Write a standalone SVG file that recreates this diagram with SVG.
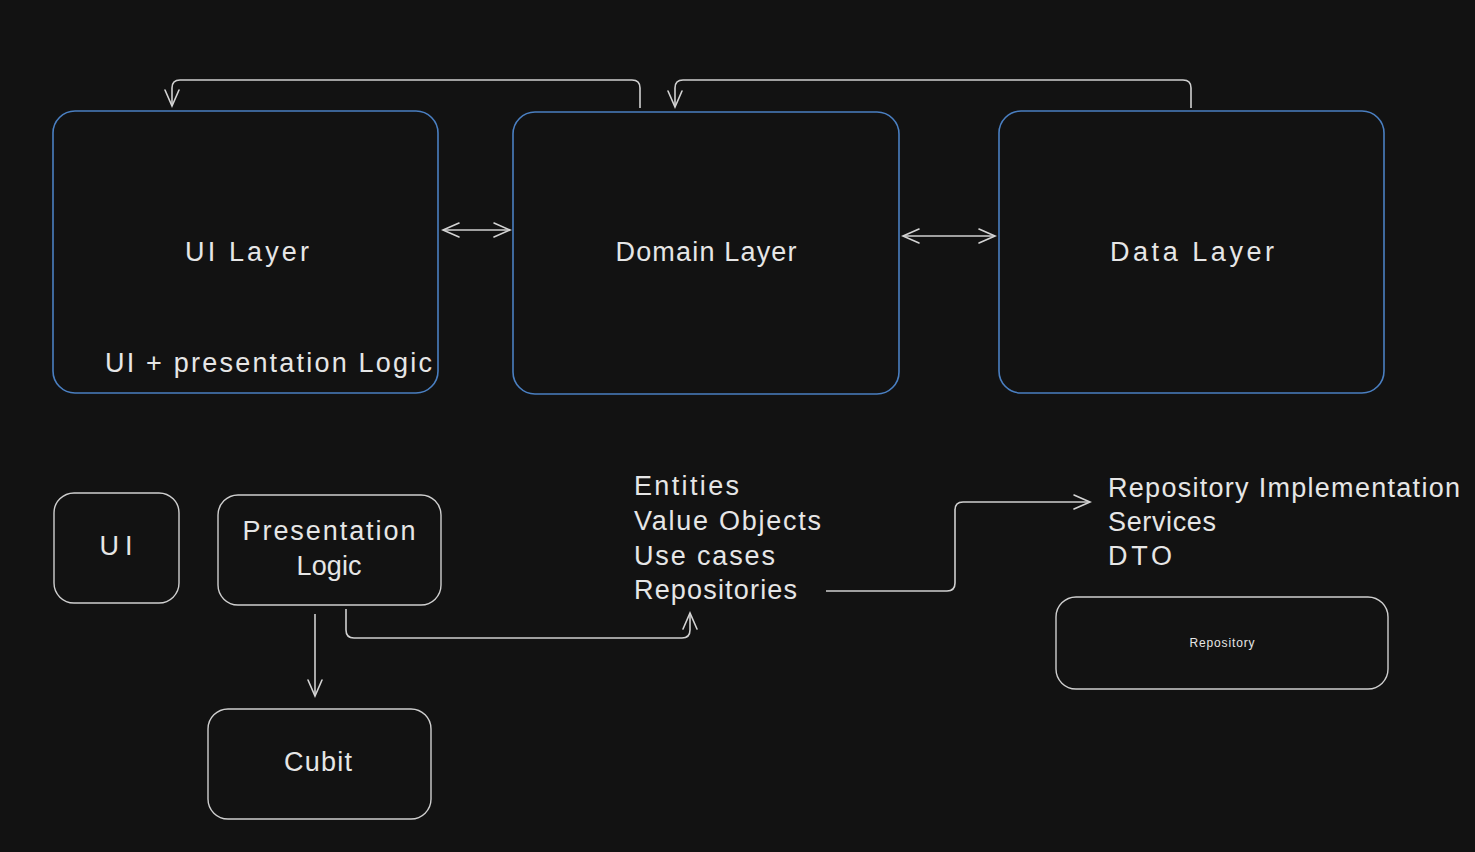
<svg xmlns="http://www.w3.org/2000/svg" width="1475" height="852" viewBox="0 0 1475 852">
<defs>
<marker id="ah" viewBox="0 0 20 20" refX="18" refY="10" markerWidth="20" markerHeight="20" markerUnits="userSpaceOnUse" orient="auto-start-reverse">
<path d="M2 3 L18 10 L2 17" fill="none" stroke="#d4d4d4" stroke-width="1.6" stroke-linecap="round"/>
</marker>
<style>
.layer{fill:#121212;stroke:#4a7fc1;stroke-width:1.6}
.box{fill:#121212;stroke:#cfcfcf;stroke-width:1.4}
.t{font-family:"Liberation Sans",Arial,sans-serif;font-size:27px;fill:#e6e6e6}
.c{text-anchor:middle}
.con{fill:none;stroke:#d0d0d0;stroke-width:1.6}
</style>
</defs>
<rect width="1475" height="852" fill="#121212"/>
<g id="ui-layer">
<rect class="layer" x="53" y="111" width="385" height="282" rx="22"/>
<text class="t c" x="247" y="261" textLength="124">UI Layer</text>
<text class="t" x="105" y="372" textLength="327">UI + presentation Logic</text>
</g>
<g id="domain-layer">
<rect class="layer" x="513" y="112" width="386" height="282" rx="22"/>
<text class="t c" x="706" y="261" textLength="181">Domain Layer</text>
</g>
<g id="data-layer">
<rect class="layer" x="999" y="111" width="385" height="282" rx="22"/>
<text class="t c" x="1192" y="261" textLength="164">Data Layer</text>
</g>
<g id="ui">
<rect class="box" x="54" y="493" width="125" height="110" rx="20"/>
<text class="t c" x="116" y="555" textLength="33">UI</text>
</g>
<g id="presentation-logic">
<rect class="box" x="218" y="495" width="223" height="110" rx="20"/>
<text class="t c" x="329" y="540" textLength="173">Presentation</text>
<text class="t c" x="329" y="575" textLength="65">Logic</text>
</g>
<g id="cubit">
<rect class="box" x="208" y="709" width="223" height="110" rx="20"/>
<text class="t c" x="318" y="771" textLength="68">Cubit</text>
</g>
<g id="domain-items">
<text class="t" x="634" y="495" textLength="105">Entities</text>
<text class="t" x="634" y="530" textLength="187">Value Objects</text>
<text class="t" x="634" y="565" textLength="141">Use cases</text>
<text class="t" x="634" y="599" textLength="163">Repositories</text>
</g>
<g id="data-items">
<text class="t" x="1108" y="497" textLength="352">Repository Implementation</text>
<text class="t" x="1108" y="531" textLength="108">Services</text>
<text class="t" x="1108" y="565" textLength="64">DTO</text>
</g>
<g id="repository">
<rect class="box" x="1056" y="597" width="332" height="92" rx="20"/>
<text class="t c" x="1222" y="647" style="font-size:12px" textLength="65">Repository</text>
</g>
<g id="connectors">
<path class="con" d="M640 108 L640 88 Q640 80 632 80 L180 80 Q172 80 172 88 L172 106" marker-end="url(#ah)"/>
<path class="con" d="M1191 108 L1191 88 Q1191 80 1183 80 L683 80 Q675 80 675 88 L675 107" marker-end="url(#ah)"/>
<path class="con" d="M443 230 L510 230" marker-start="url(#ah)" marker-end="url(#ah)"/>
<path class="con" d="M903 236 L995 236" marker-start="url(#ah)" marker-end="url(#ah)"/>
<path class="con" d="M315 614 L315 696" marker-end="url(#ah)"/>
<path class="con" d="M346 609 L346 630 Q346 638 354 638 L682 638 Q690 638 690 630 L690 613" marker-end="url(#ah)"/>
<path class="con" d="M826 591 L947 591 Q955 591 955 583 L955 510 Q955 502 963 502 L1090 502" marker-end="url(#ah)"/>
</g>
</svg>
